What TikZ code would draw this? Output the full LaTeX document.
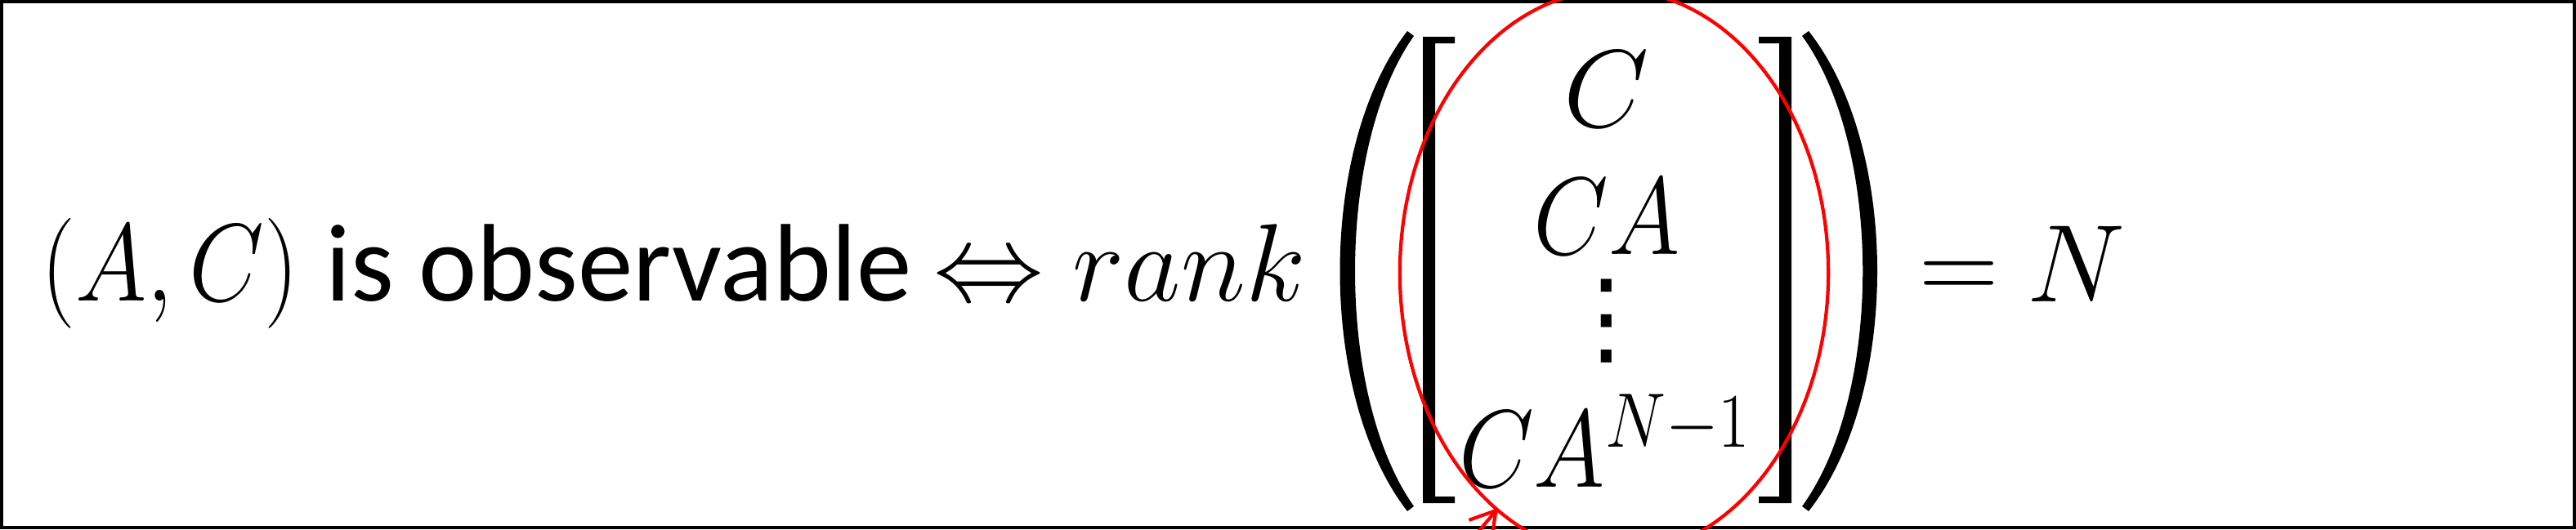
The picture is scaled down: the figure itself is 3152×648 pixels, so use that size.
\RequirePackage{fix-cm}
\documentclass[tikz,border=0pt]{standalone}
\usepackage{fontspec}
\setmainfont{Carlito}
\newfontfamily\symfont{DejaVu Sans}
\usetikzlibrary{arrows.meta}
\begin{document}
\begin{tikzpicture}[x=0.01cm,y=-0.01cm]
      \tikzset{eqtext/.style={inner sep=0pt, anchor=base, font=\fontsize{38.4}{46}\selectfont},
               squeeze/.style={xscale=0.88, transform shape},
               ring/.style={draw=red, line width=1.2pt}}
%% Frame
      \useasboundingbox (0,0) rectangle (3152,648);
      \clip (0,0) rectangle (3152,648);
      \draw[line width=1.2pt] (2,2) rectangle (3150,646);
%% Left side
      \node[eqtext, squeeze] (pair) at (208,368) {$(A,C)$};
      \node[eqtext] (obs) at (757,368) {is observable};
      \node[eqtext] (iff) at (1210,368) {$\Leftrightarrow$};
      \node[eqtext] (rank) at (1455,368) {$rank$};
%% Matrix rows
      \node[eqtext] (r1) at (1966,155) {$C$};
      \node[eqtext, squeeze] (r2) at (1966,311) {$CA$};
      \node[eqtext, font=\symfont\fontsize{36}{42}\selectfont] (r3) at (1966,432) {⋮};
      \node[eqtext, squeeze] (r4) at (1964,596) {$CA^{N-1}$};
%Delimiters
      \fill (1722,38) .. controls (1612,180) and (1612,484) .. (1722,626) -- (1730,620) .. controls (1634,484) and (1634,180) .. (1730,44) -- cycle;
      \fill (1741,45) -- (1780,45) -- (1780,53) -- (1756,53) -- (1756,608) -- (1780,608) -- (1780,616) -- (1741,616) -- cycle;
      \fill (2192,45) -- (2152,45) -- (2152,53) -- (2177,53) -- (2177,608) -- (2152,608) -- (2152,616) -- (2192,616) -- cycle;
      \fill (2213,38) .. controls (2325,180) and (2325,484) .. (2213,626) -- (2205,620) .. controls (2304,484) and (2304,180) .. (2205,44) -- cycle;
%% Right side
      \node[eqtext] (equals) at (2397,368) {$=$};
      \node[eqtext] (n) at (2540,369) {$N$};
%% Highlight
      \draw[ring] (1975,334) ellipse [x radius=2.62cm, y radius=3.46cm];
      \coordinate (tail) at (1795,668);
      \coordinate (tip) at (1833,622);
      \draw[ring, -{Straight Barb[length=3mm,width=3.6mm]}] (tail) -- (tip);
\end{tikzpicture}
\end{document}
